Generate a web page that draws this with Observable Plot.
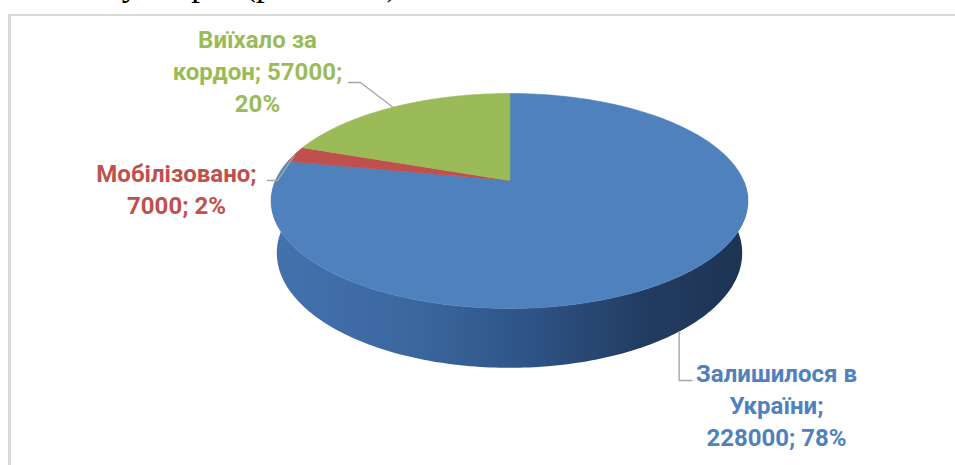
<!DOCTYPE html>
<html><head><meta charset="utf-8">
<script src="https://cdn.jsdelivr.net/npm/d3@7"></script>
<script src="https://cdn.jsdelivr.net/npm/@observablehq/plot@0.6"></script>
<style>
html,body{margin:0;padding:0;background:#fff;}
#wrap{position:relative;width:955px;height:465px;overflow:hidden;background:#fff;}
#chart{position:absolute;left:0;top:0;}
#frag{position:absolute;left:78px;top:-34.5px;font-family:"Liberation Serif","Times New Roman",serif;font-size:35px;line-height:35px;white-space:nowrap;color:#000;}
#frame{position:absolute;left:8px;top:14px;width:980px;height:480px;border-top:2px solid #d9d9d9;border-left:3px solid #d9d9d9;box-sizing:border-box;pointer-events:none;}
</style></head>
<body>
<div id="wrap"><div id="chart"></div><div id="frag">… у, за рік (рис. 2.10)</div><div id="frame"></div></div>
<script>
// ---- data ----
const categories = ["Залишилося в України", "Мобілізовано", "Виїхало за кордон"];
const values = [228000, 7000, 57000];
const percents = ["78%", "2%", "20%"];
const colors = ["#4F81BD", "#C0504D", "#9BBB59"];

// ---- layout (not data) ----
const W = 955, Hgt = 465;
const CX = 509, CY = 180, PX = 234;           // pie centre and unit size in pixels
const tilt = Math.asin(0.4426), S = Math.sin(tilt), C = Math.cos(tilt);
const D = 4.708, DEPTH = 0.25;                 // camera distance, pie thickness (unit radii)
const labelLayout = [
  {tx: 1.141, ty: -0.955, vertical: true, elbowY: -0.855, endDx: 0.055},
  {tx: -1.423, ty: -0.032, elbow: [-0.991, 0.0], end: [-1.034, 0.0]},
  {tx: -1.077, ty: 0.474, elbow: [-0.637, 0.419], end: [-0.688, 0.419]}
];
const fontSize = 24, wrapChars = 14;

// ---- geometry ----
function proj(theta, Y, r = 1) {
  const u = r * Math.sin(theta), v = r * Math.cos(theta);
  const yc = Y * C + v * S, zc = v * C - Y * S, w = D + zc;
  return {x: u * D / w, y: yc * D / w};
}
function arcPts(a0, a1, Y) {
  const n = Math.max(2, Math.ceil((a1 - a0) / (Math.PI / 180)));
  return d3.range(n + 1).map(i => proj(a0 + (a1 - a0) * i / n, Y));
}
function wrap(text, maxChars) {
  const words = text.split(" "), lines = [];
  let cur = "";
  for (const w of words) {
    if (!cur) cur = w;
    else if ((cur + " " + w).length <= maxChars) cur += " " + w;
    else { lines.push(cur); cur = w; }
  }
  if (cur) lines.push(cur);
  return lines.join("\n");
}

const arcs = d3.pie().sort(null).value(d => d)(values);
const slices = arcs.map((a, i) => ({
  i, a0: a.startAngle, a1: a.endAngle, color: colors[i],
  top: [proj(0, 0, 0), ...arcPts(a.startAngle, a.endAngle, 0)],
  label: wrap(`${categories[i]}; ${values[i]}; ${percents[i]}`, wrapChars)
}));

const marks = [];
// soft shadow under the disc
marks.push(Plot.line(arcPts(0, 2 * Math.PI, -DEPTH), {x: "x", y: "y", fill: "#000", fillOpacity: 0.32, stroke: "none", curve: "linear-closed", dy: 7, ariaLabel: "shadow"}));
// side walls (front half)
slices.forEach(s => {
  const lo = Math.max(s.a0, Math.PI / 2), hi = Math.min(s.a1, 3 * Math.PI / 2);
  if (hi > lo) {
    const pts = arcPts(lo, hi, 0).concat(arcPts(lo, hi, -DEPTH).reverse());
    marks.push(Plot.line(pts, {x: "x", y: "y", fill: `url(#side${s.i})`, stroke: "none", curve: "linear-closed"}));
  }
});
// top faces
slices.forEach(s => {
  marks.push(Plot.line(s.top, {x: "x", y: "y", fill: s.color, stroke: s.color, strokeWidth: 0.6, curve: "linear-closed"}));
});
// rim highlight along the front edge
slices.forEach(s => {
  const lo = Math.max(s.a0, Math.PI / 2 + 0.12), hi = Math.min(s.a1, 3 * Math.PI / 2 - 0.04);
  if (hi > lo) marks.push(Plot.line(arcPts(lo, hi, -0.012), {x: "x", y: "y", stroke: `url(#rim${s.i})`, strokeWidth: 3, ariaLabel: "rim"}));
});
// leader lines and labels
slices.forEach(s => {
  const L = labelLayout[s.i];
  const m = (s.a0 + s.a1) / 2;
  const start = Math.cos(m) < 0 ? proj(m, -DEPTH) : proj(m, 0);
  let pts;
  if (L.vertical) pts = [start, {x: start.x, y: L.elbowY}, {x: start.x + L.endDx, y: L.elbowY}];
  else pts = [start, {x: L.elbow[0], y: L.elbow[1]}, {x: L.end[0], y: L.end[1]}];
  marks.push(Plot.line(pts, {x: "x", y: "y", stroke: "#a6a6a6", strokeWidth: 1.4}));
  marks.push(Plot.text([s], {x: () => L.tx, y: () => L.ty, text: "label", fill: s.color,
    fontSize, fontWeight: "bold", fontFamily: "Roboto, 'Open Sans', sans-serif",
    lineHeight: 1.33, lineAnchor: "middle", textAnchor: "middle"}));
});

const chart = Plot.plot({
  width: W, height: Hgt, margin: 0,
  x: {domain: [-CX / PX, (W - CX) / PX], range: [0, W], axis: null},
  y: {domain: [(CY - Hgt) / PX, CY / PX], range: [Hgt, 0], axis: null},
  style: {background: "transparent"},
  marks
});

// gradients / filters
const svg = d3.select(chart);
const defs = svg.insert("defs", ":first-child");
const f = defs.append("filter").attr("id", "blur").attr("x", "-20%").attr("y", "-20%").attr("width", "140%").attr("height", "140%");
f.append("feGaussianBlur").attr("stdDeviation", 7);
const f2 = defs.append("filter").attr("id", "blur1").attr("x", "-5%").attr("y", "-50%").attr("width", "110%").attr("height", "200%");
f2.append("feGaussianBlur").attr("stdDeviation", 1.1);
const sideStops = [
  [["0%", "#4472ad"], ["30%", "#3b679f"], ["55%", "#2e5385"], ["78%", "#223c61"], ["100%", "#1e3352"]],
  [["0%", "#a84542"], ["100%", "#6e2a28"]],
  [["0%", "#86a34c"], ["100%", "#5a7232"]]
];
sideStops.forEach((st, i) => {
  const g = defs.append("linearGradient").attr("id", `side${i}`).attr("x1", 0).attr("x2", 1).attr("y1", 0).attr("y2", 0);
  st.forEach(([o, c]) => g.append("stop").attr("offset", o).attr("stop-color", c));
  const r = defs.append("linearGradient").attr("id", `rim${i}`).attr("x1", 0).attr("x2", 1).attr("y1", 0).attr("y2", 0);
  r.append("stop").attr("offset", "0%").attr("stop-color", "#8fb4e6").attr("stop-opacity", 0.55);
  r.append("stop").attr("offset", "35%").attr("stop-color", "#9cc0f0").attr("stop-opacity", 0.9);
  r.append("stop").attr("offset", "70%").attr("stop-color", "#7ea3d6").attr("stop-opacity", 0.5);
  r.append("stop").attr("offset", "100%").attr("stop-color", "#5a7fb3").attr("stop-opacity", 0.1);
});
svg.selectAll('[aria-label="shadow"]').attr("filter", "url(#blur)");
svg.selectAll('[aria-label="rim"]').attr("filter", "url(#blur1)");

document.getElementById("chart").appendChild(chart);
</script>
</body></html>
